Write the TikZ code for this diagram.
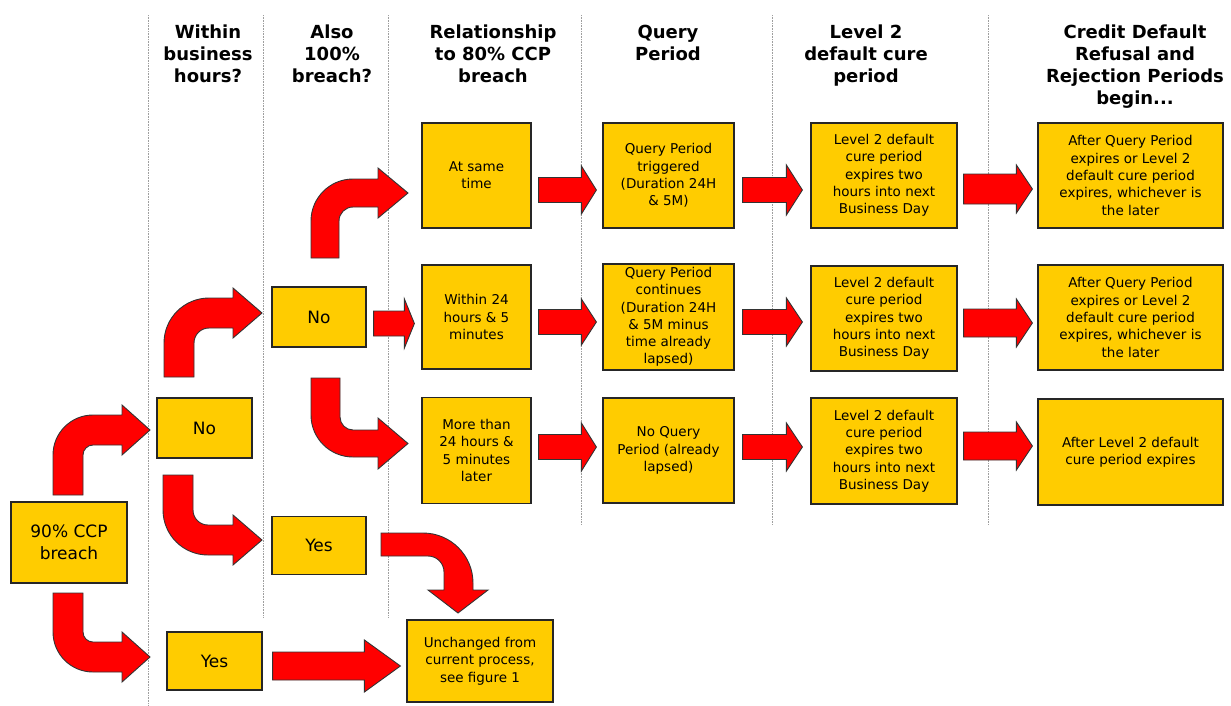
\documentclass[tikz,border=0pt]{standalone}
\usepackage{fontspec}
\setmainfont{DejaVu Sans}
\usetikzlibrary{calc}
\definecolor{boxyellow}{HTML}{FFCC00}
\definecolor{arrowred}{HTML}{FF0000}
\newcommand\smallfnt{\fontsize{13.5}{17.3}\selectfont}
\newcommand\bigfnt{\fontsize{17}{21.5}\selectfont}
\newcommand\headfnt{\bfseries\fontsize{18}{22}\selectfont}
% straight block arrow: from, to, start gap, end gap, y, half shaft, half head, head length
\newcommand\harrow[8]{%
  \filldraw[blockarrow] let \p1=(#1.east), \p2=(#2.west) in
   ({\x1+#3pt},{-#5pt+#6pt}) -- ({\x2-#4pt-#8pt},{-#5pt+#6pt}) --
   ({\x2-#4pt-#8pt},{-#5pt+#7pt}) -- ({\x2-#4pt},{-#5pt}) --
   ({\x2-#4pt-#8pt},{-#5pt-#7pt}) -- ({\x2-#4pt-#8pt},{-#5pt-#6pt}) --
   ({\x1+#3pt},{-#5pt-#6pt}) -- cycle;}
\tikzset{
  box/.style={draw=black!85, fill=boxyellow, line width=1.2pt, align=center,
    inner sep=0pt, font=\smallfnt, text=black},
  blockarrow/.style={fill=arrowred, draw=black!80, line width=0.9pt, line join=miter},
  header/.style={align=center, inner sep=0pt, anchor=north, font=\headfnt},
  divider/.style={gray!75, line width=0.8pt, dash pattern=on 0.8pt off 0.8pt}
}
\begin{document}
\begin{tikzpicture}[x=1pt,y=-1pt]
\fill[white] (0,0) rectangle (1231,705);
\useasboundingbox (0,0) rectangle (1231,705);

% column dividers
\draw[divider] (148,15) -- (148,705);
\draw[divider] (263,15) -- (263,618);
\draw[divider] (388,15) -- (388,618);
\draw[divider] (581,15) -- (581,525);
\draw[divider] (772,15) -- (772,525);
\draw[divider] (988,15) -- (988,525);

% headers
\node[header] (h1) at (208,25) {Within\\business\\hours?};
\node[header] (h2) at (332,25) {Also\\100\%\\breach?};
\node[header] (h3) at (493,25) {Relationship\\to 80\% CCP\\breach};
\node[header] (h4) at (668,25) {Query\\Period};
\node[header] (h5) at (866,25) {Level 2\\default cure\\period};
\node[header] (h6) at (1135,25) {Credit Default\\Refusal and\\Rejection Periods\\begin...};

% boxes
\node[box, font=\bigfnt, minimum width=116pt, minimum height=81pt] (b90) at (69,542.5) {90\% CCP\\breach};
\node[box, font=\bigfnt, minimum width=95pt, minimum height=60pt] (no1) at (204.5,428) {No};
\node[box, font=\bigfnt, minimum width=95pt, minimum height=58pt] (yes1) at (214.5,661) {Yes};
\node[box, font=\bigfnt, minimum width=94pt, minimum height=60pt] (no2) at (319,317) {No};
\node[box, font=\bigfnt, minimum width=94pt, minimum height=58pt] (yes2) at (319,545.5) {Yes};

\node[box, minimum width=109pt, minimum height=105pt] (atime) at (476.5,175.5) {At same\\time};
\node[box, minimum width=109pt, minimum height=104pt] (within) at (476.5,317) {Within 24\\hours \& 5\\minutes};
\node[box, minimum width=109pt, minimum height=106pt] (more) at (476.5,450.5) {More than\\24 hours \&\\5 minutes\\later};
\node[box, minimum width=146pt, minimum height=82pt] (unch) at (480,661) {Unchanged from\\current process,\\see figure 1};

\node[box, minimum width=131pt, minimum height=105pt] (q1) at (668.5,175.5) {Query Period\\triggered\\(Duration 24H\\\& 5M)};
\node[box, minimum width=131pt, minimum height=106pt] (q2) at (668.5,317) {Query Period\\continues\\(Duration 24H\\\& 5M minus\\time already\\lapsed)};
\node[box, minimum width=131pt, minimum height=105pt] (q3) at (668.5,450.5) {No Query\\Period (already\\lapsed)};

\node[box, minimum width=146pt, minimum height=105pt] (l1) at (884,175.5) {Level 2 default\\cure period\\expires two\\hours into next\\Business Day};
\node[box, minimum width=146pt, minimum height=105pt] (l2) at (884,318.5) {Level 2 default\\cure period\\expires two\\hours into next\\Business Day};
\node[box, minimum width=146pt, minimum height=106pt] (l3) at (884,451) {Level 2 default\\cure period\\expires two\\hours into next\\Business Day};

\node[box, minimum width=185pt, minimum height=105pt] (c1) at (1130.5,175.5) {After Query Period\\expires or Level 2\\default cure period\\expires, whichever is\\the later};
\node[box, minimum width=185pt, minimum height=105pt] (c2) at (1130.5,317.5) {After Query Period\\expires or Level 2\\default cure period\\expires, whichever is\\the later};
\node[box, minimum width=185pt, minimum height=106pt] (c3) at (1130.5,452) {After Level 2 default\\cure period expires};

% bent arrows
% 90% -> No (business hours)
\filldraw[blockarrow] (53,495) -- (53,455) arc[start angle=180,end angle=270,radius=40]
  -- (122,415) -- (122,405) -- (150,430) -- (122,455) -- (122,445) -- (93,445)
  arc[start angle=270,end angle=180,radius=10] -- (83,495) -- cycle;
% 90% -> Yes (business hours)
\filldraw[blockarrow] (53,593) -- (53,632) arc[start angle=180,end angle=90,radius=40]
  -- (122,672) -- (122,682) -- (150,657) -- (122,632) -- (122,642) -- (93,642)
  arc[start angle=90,end angle=180,radius=10] -- (83,593) -- cycle;
% No -> Yes (100%)
\filldraw[blockarrow] (163,475) -- (163,510) arc[start angle=180,end angle=90,radius=45]
  -- (233,555) -- (233,565) -- (262,540) -- (233,515) -- (233,525) -- (208,525)
  arc[start angle=90,end angle=180,radius=15] -- (193,475) -- cycle;
% No -> No (100%)
\filldraw[blockarrow] (164,377) -- (164,343) arc[start angle=180,end angle=270,radius=45]
  -- (233,298) -- (233,288) -- (262,313) -- (233,338) -- (233,328) -- (209,328)
  arc[start angle=270,end angle=180,radius=15] -- (194,377) -- cycle;
% No -> At same time
\filldraw[blockarrow] (311,258) -- (311,221) arc[start angle=180,end angle=270,radius=42]
  -- (378,179) -- (378,168) -- (408,193) -- (378,218) -- (378,207) -- (353,207)
  arc[start angle=270,end angle=180,radius=14] -- (339,258) -- cycle;
% No -> More than 24 hours
\filldraw[blockarrow] (311,378) -- (311,415) arc[start angle=180,end angle=90,radius=42]
  -- (378,457) -- (378,469) -- (408,443.5) -- (378,418) -- (378,430) -- (353,430)
  arc[start angle=90,end angle=180,radius=13] -- (340,378) -- cycle;
% Yes -> Unchanged
\filldraw[blockarrow] (381,533) -- (423,533) arc[start angle=270,end angle=360,radius=50]
  -- (473,590) -- (488,590) -- (458,613) -- (428,590) -- (444,590) -- (444,572)
  arc[start angle=0,end angle=-90,radius=16] -- (381,556) -- cycle;

% straight arrows
\harrow{no2}{within}{7}{7}{323.5}{12.5}{24.5}{10}
\harrow{yes1}{unch}{10}{6}{666}{14}{26}{36}
\harrow{atime}{q1}{7}{6}{190}{12.5}{24}{15}
\harrow{within}{q2}{7}{6}{322}{12.5}{23}{15}
\harrow{more}{q3}{7}{6}{447}{12.5}{24}{15}
\harrow{q1}{l1}{8}{8}{190}{12.5}{25}{16}
\harrow{q2}{l2}{8}{8}{322}{12.5}{24}{16}
\harrow{q3}{l3}{8}{8}{447}{12.5}{24}{16}
\harrow{l1}{c1}{6}{5}{189}{15}{24}{16}
\harrow{l2}{c2}{6}{5}{323}{14}{24}{16}
\harrow{l3}{c3}{6}{5}{446}{14}{24}{16}
\end{tikzpicture}
\end{document}
